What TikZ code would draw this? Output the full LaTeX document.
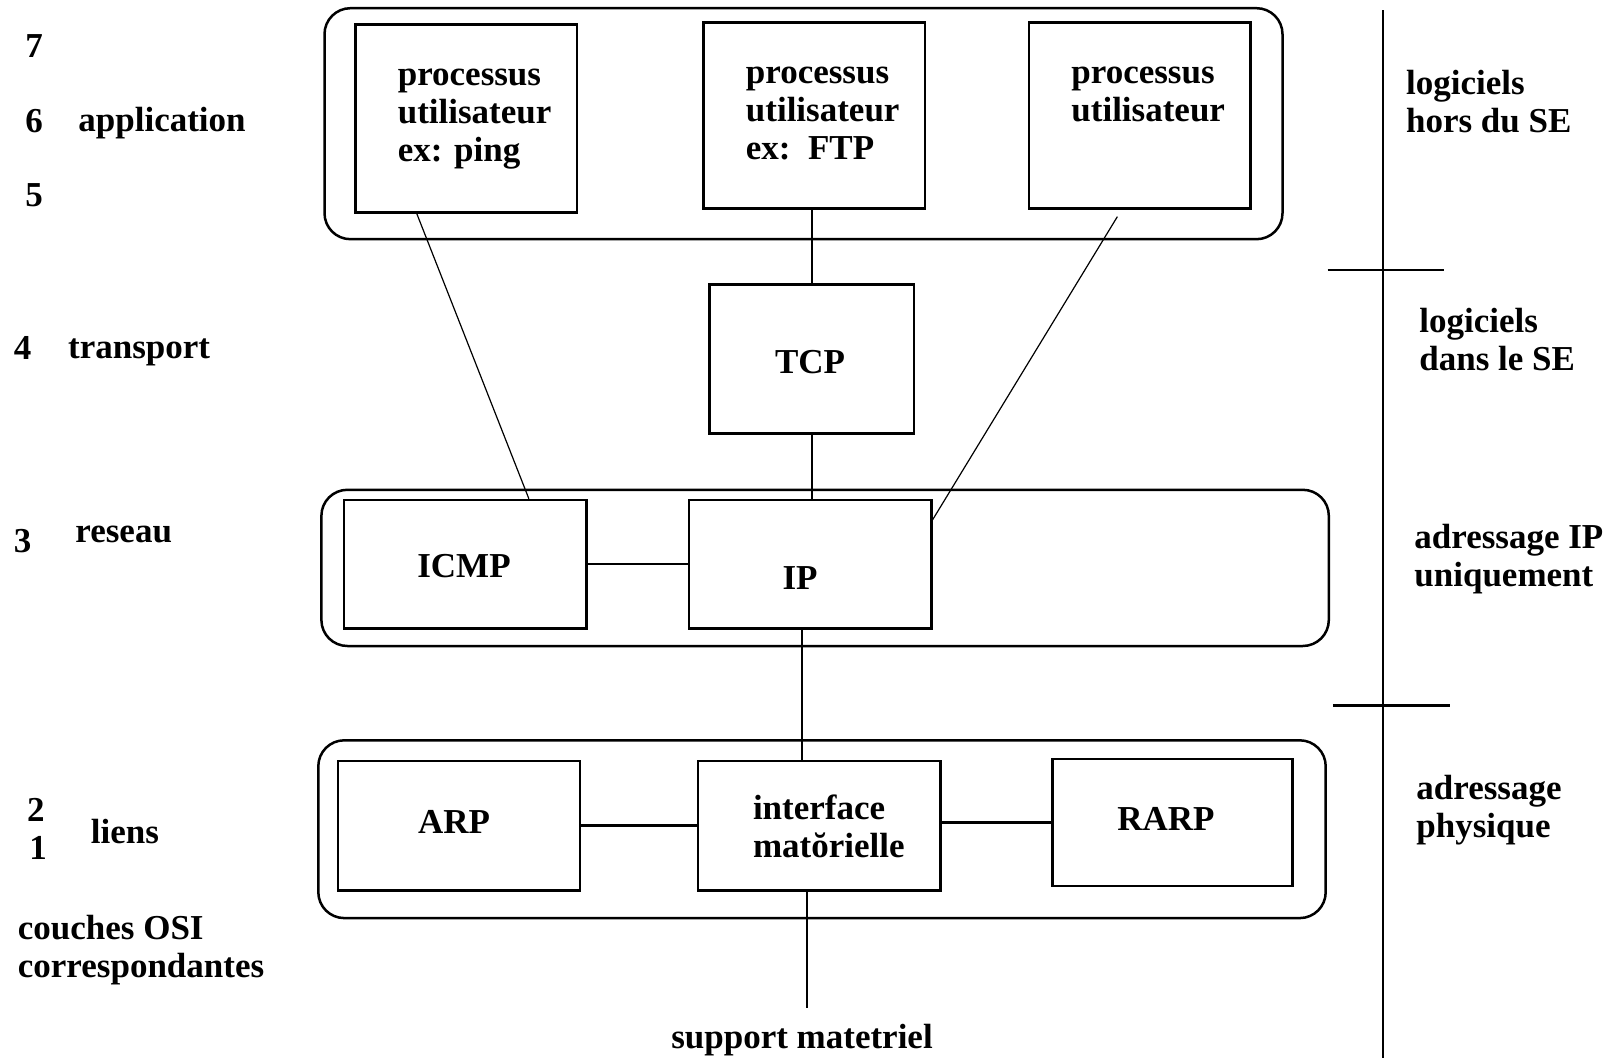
\documentclass[tikz,border=0pt]{standalone}
\usepackage{fontspec}
\setmainfont{Liberation Serif}
\usetikzlibrary{calc}
\begin{document}
\begin{tikzpicture}[x=0.5pt,y=-0.5pt,
  txt/.style={font=\fontsize{17.5}{19}\bfseries\selectfont, inner sep=0pt, align=left},
  pbox/.style={draw, line width=1.25pt, inner sep=0pt},
  grp/.style={draw, line width=1.25pt, rounded corners=13pt, inner sep=0pt},
  cthin/.style={line width=0.6pt},
  cmid/.style={line width=0.9pt},
  cthick/.style={line width=1.25pt}]
\fill[white] (0,0) rectangle (1610,1058);
\useasboundingbox (0,0) rectangle (1610,1058);

% group boxes
\node[grp, minimum width=479pt, minimum height=115.5pt] (app) at (803.5,123.7) {};
\node[grp, minimum width=503.7pt, minimum height=78.1pt] (net) at (825.1,567.9) {};
\node[grp, minimum width=503.7pt, minimum height=88.9pt] (lnk) at (822,829.2) {};

% process boxes
\node[pbox, minimum width=110.9pt, minimum height=94pt] (p1) at (466.2,118.6) {};
\node[pbox, minimum width=110.9pt, minimum height=92.9pt] (p2) at (814.3,115.5) {};
\node[pbox, minimum width=110.9pt, minimum height=92.9pt] (p3) at (1139.8,115.5) {};
\node[txt, anchor=west] (p1t) at (397.4,119) {processus\\utilisateur\\ex: ping};
\node[txt, anchor=west] (p2t) at (745.5,113) {processus\\utilisateur\\ex:\ \ FTP};
\node[txt, anchor=west] (p3t) at (1071,94) {processus\\utilisateur};

% TCP
\node[pbox, minimum width=102.2pt, minimum height=74.5pt] (tcp) at (811.7,358.9) {};
\node[txt] (tcpt) at (810,362) {TCP};

% network layer
\node[pbox, minimum width=121.2pt, minimum height=64.2pt] (icmp) at (465.2,564.2) {};
\node[pbox, minimum width=121.2pt, minimum height=64.2pt] (ip) at (810.2,564.2) {};
\node[txt] (icmpt) at (464,566) {ICMP};
\node[txt] (ipt) at (800,578) {IP};

% link layer
\node[pbox, minimum width=121.2pt, minimum height=64.7pt] (arp) at (459,825.6) {};
\node[pbox, minimum width=121.2pt, minimum height=64.7pt] (iface) at (819.4,825.6) {};
\node[pbox, minimum width=120.1pt, minimum height=63.7pt] (rarp) at (1172.6,822.5) {};
\node[txt] (arpt) at (454,822) {ARP};
\node[txt, anchor=west] (ifacet) at (752.6,826) {interface\\mat\u{o}rielle};
\node[txt] (rarpt) at (1166,819) {RARP};

% support
\node[txt] (sup) at (802,1040) {support matetriel};
\coordinate (supend) at (807,1008.3);

% connectors
\draw[cthin] ($(p1.south west)!0.28!(p1.south east)$) -- ($(icmp.north west)!0.76!(icmp.north east)$);
\draw[cmid] (tcp.north |- p2.south) -- (tcp.north);
\draw[cthin] ($(p3.south west)!0.4!(p3.south east)+(0,7)$) -- ($(ip.north east)!0.16!(ip.south east)$);
\draw[cmid] (tcp.south) -- (tcp.south |- ip.north);
\draw[cthick] (icmp.east) -- (icmp.east -| ip.west);
\draw[cmid] ([xshift=-4pt]ip.south) -- ([xshift=-4pt]ip.south |- iface.north);
\draw[cthick] (arp.east) -- (arp.east -| iface.west);
\draw[cthick] (iface.east |- rarp.west) -- (rarp.west);
\draw[cthick] (supend |- iface.south) -- (supend);

% divider
\coordinate (vtop) at (1383.1,10.3);
\coordinate (vbot) at (1383.1,1058);
\draw[line width=1pt] (vtop) -- (vbot);
\draw[cthick] (1327.7,270) -- (1443.7,270);
\draw[cthick] (1332.8,705.4) -- (1449.8,705.4);

% right labels
\node[txt, anchor=west] (r1) at (1405.7,102) {logiciels\\hors du SE};
\node[txt, anchor=west] (r2) at (1419,340) {logiciels\\dans le SE};
\node[txt, anchor=west] (r3) at (1414,559) {adressage IP\\uniquement};
\node[txt, anchor=west] (r4) at (1416,810) {adressage\\physique};

% left labels
\node[txt] (n7) at (34,46) {7};
\node[txt] (n6) at (34,121) {6};
\node[txt, anchor=west] (lapp) at (78,123) {application};
\node[txt] (n5) at (34,195) {5};
\node[txt] (n4) at (22.6,348) {4};
\node[txt, anchor=west] (ltr) at (67.8,352) {transport};
\node[txt] (n3) at (22.6,541) {3};
\node[txt, anchor=west] (lres) at (75,534) {reseau};
\node[txt] (n2) at (36,810) {2};
\node[txt] (n1) at (38,848) {1};
\node[txt, anchor=west] (llie) at (90.4,832) {liens};
\node[txt, anchor=west] (losi) at (17.5,950) {couches OSI\\correspondantes};
\end{tikzpicture}
\end{document}
